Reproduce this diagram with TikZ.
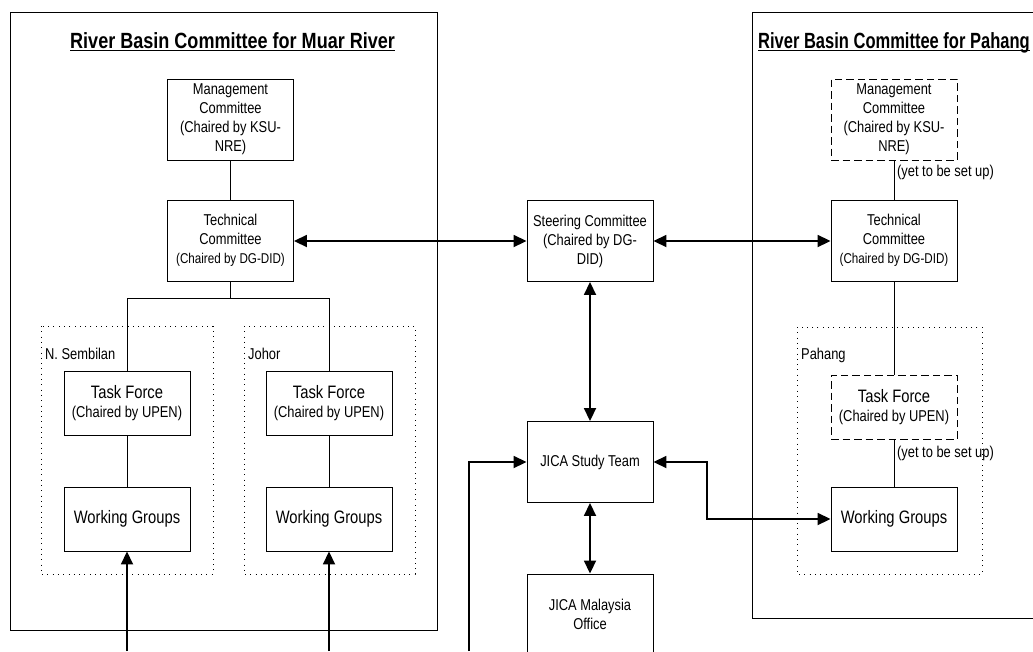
\documentclass[tikz,border=0pt]{standalone}
\usepackage{fontspec}
\usepackage{graphicx}
\setmainfont[FakeStretch=0.82]{Liberation Sans}
\usetikzlibrary{arrows.meta}
\newcommand\fsz[1]{\fontsize{#1}{19}\selectfont}
\begin{document}
\begin{tikzpicture}[x=1pt,y=-1pt,
  box/.style={draw, line width=0.9pt, inner sep=0pt, minimum width=126pt, minimum height=81pt, align=center, font=\fsz{15.7}},
  sbox/.style={box, minimum height=64pt},
  pending/.style={dash pattern=on 7.5pt off 4pt},
  region/.style={draw, line width=0.7pt, dash pattern=on 0.9pt off 4.4pt},
  frame/.style={draw, line width=1pt},
  link/.style={line width=0.9pt},
  flow/.style={line width=1.8pt, -{Triangle[length=13pt,width=12pt]}},
  biflow/.style={line width=1.8pt, {Triangle[length=13pt,width=12pt]}-{Triangle[length=13pt,width=12pt]}},
  lbl/.style={inner sep=0pt, font=\fsz{15.7}},
  ttl/.style={inner sep=0pt, font=\bfseries\fontsize{22}{26}\selectfont},
]
\useasboundingbox (0,0) rectangle (1033,651);
\clip (0,0) rectangle (1033,651);
\fill[white] (0,0) rectangle (1033,651);

% frames
\draw[frame] (10,12) rectangle (437,630);
\draw[frame] (752,12) rectangle (1045,618);
\node[ttl, anchor=base west] (titleL) at (70,48) {River Basin Committee for Muar River};
\draw[line width=1.1pt] ([yshift=-2.5pt]titleL.base west) -- ([yshift=-2.5pt]titleL.base east);
\node[ttl, anchor=base west] (titleR) at (758,48) {\scalebox{0.915}[1]{River Basin Committee for Pahang}};
\draw[line width=1.1pt] ([yshift=-2.5pt]titleR.base west) -- ([yshift=-2.5pt]titleR.base east);

% regions
\draw[region] (41,326) rectangle (213,574);
\draw[region] (244,326) rectangle (415,574);
\draw[region] (797,327) rectangle (982,574);
\node[lbl, anchor=west] (lNS) at (45,354) {N. Sembilan};
\node[lbl, anchor=west] (lJo) at (248,354) {Johor};
\node[lbl, anchor=west] (lPa) at (801,355) {Pahang};

% boxes
\node[box] (mgmtL) at (230.5,119.5) {Management\\Committee\\(Chaired by KSU-\\NRE)};
\node[box] (techL) at (230.5,240.5) {Technical\\Committee\\{\fsz{14.2}(Chaired by DG-DID)}};
\node[sbox] (tfL) at (127,403.5) {{\fsz{18}Task Force}\\(Chaired by UPEN)};
\node[sbox, font=\fsz{18}] (wgL) at (127,519) {Working Groups};
\node[sbox] (tfJ) at (329,403.5) {{\fsz{18}Task Force}\\(Chaired by UPEN)};
\node[sbox, font=\fsz{18}] (wgJ) at (329,519) {Working Groups};

\node[box] (steer) at (590,241) {Steering Committee\\(Chaired by DG-\\DID)};
\node[box] (jst) at (590,462) {JICA Study Team};
\node[box] (jmo) at (590,614.5) {JICA Malaysia\\Office};

\node[box, pending] (mgmtR) at (894,119.5) {Management\\Committee\\(Chaired by KSU-\\NRE)};
\node[box] (techR) at (894,240.5) {Technical\\Committee\\{\fsz{14.2}(Chaired by DG-DID)}};
\node[sbox, pending] (tfR) at (894,407) {{\fsz{18}Task Force}\\(Chaired by UPEN)};
\node[sbox, font=\fsz{18}] (wgR) at (894,519) {Working Groups};
\node[lbl, anchor=west] (ySet1) at (897,172) {(yet to be set up)};
\node[lbl, anchor=west] (ySet2) at (897,453) {(yet to be set up)};

% plain links
\draw[link] (mgmtL) -- (techL);
\draw[link] (techL.south) -- ++(0,17) coordinate (split) -| (tfL.north);
\draw[link] (split) -| (tfJ.north);
\draw[link] (tfL) -- (wgL);
\draw[link] (tfJ) -- (wgJ);
\draw[link] (mgmtR) -- (techR);
\draw[link] (techR) -- (tfR);
\draw[link] (tfR) -- (wgR);

% arrows
\draw[biflow] (techL.east |- steer.west) -- (steer.west);
\draw[biflow] (steer.east) -- (steer.east -| techR.west);
\draw[biflow] (steer) -- (jst);
\draw[biflow] (jst) -- (jmo);
\coordinate (inL) at (127,651);
\coordinate (inJ) at (329,651);
\coordinate (inS) at (469,651);
\coordinate (bend) at (707,462);
\draw[flow] (inL) -- (wgL);
\draw[flow] (inJ) -- (wgJ);
\draw[flow] (inS) |- (jst.west);
\draw[biflow] (jst.east) -- (jst.east -| bend) |- (wgR.west);
\end{tikzpicture}
\end{document}
